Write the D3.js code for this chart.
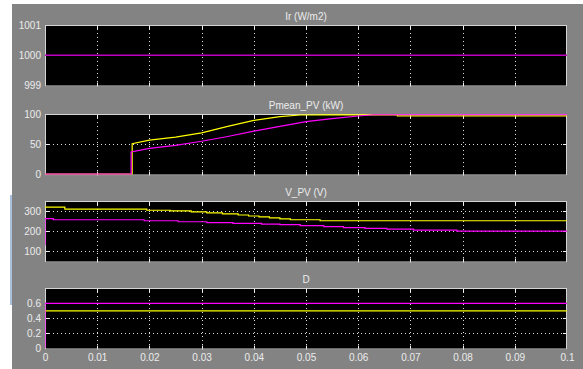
<!DOCTYPE html>
<html>
<head>
<meta charset="utf-8">
<script src="https://cdn.jsdelivr.net/npm/d3@7"></script>
<style>
  body { margin: 0; background: #fff; }
  svg text { font-family: "Liberation Sans", Arial, sans-serif; font-size: 10px; fill: #ececec; }
</style>
</head>
<body>
<svg id="chart" width="583" height="369"></svg>
<script>
// time axis
var xTicks = [0, 0.01, 0.02, 0.03, 0.04, 0.05, 0.06, 0.07, 0.08, 0.09, 0.1];

// Ir (W/m2)
var irTime = [0, 0.1];
var irValue = [1000, 1000];

// Pmean_PV (kW)
var pYellowTime  = [0, 0.0167, 0.0167, 0.02, 0.025, 0.03, 0.035, 0.04, 0.045, 0.0489, 0.055, 0.06, 0.0675, 0.0675, 0.1];
var pYellowValue = [0, 0, 51, 57, 62, 69, 80, 90, 96.5, 99.2, 99.4, 99.4, 99.3, 97.8, 97.8];
var pMagentaTime  = [0, 0.0165, 0.0165, 0.02, 0.025, 0.03, 0.035, 0.04, 0.045, 0.05, 0.055, 0.06, 0.063, 0.1];
var pMagentaValue = [0, 0, 37, 43, 48, 55, 63, 72, 80, 88, 93, 97.5, 99.6, 99.6];

// V_PV (V), piecewise constant
var vYellowTime  = [0, 0.0038, 0.0195, 0.024, 0.028, 0.031, 0.034, 0.037, 0.039, 0.041, 0.043, 0.045, 0.047, 0.0527, 0.1];
var vYellowValue = [322, 312, 306, 303, 298, 293, 288, 282, 277, 272, 267, 262, 258, 253, 253];
var vMagentaTime  = [0, 0, 0.0016, 0.019, 0.0255, 0.031, 0.036, 0.0415, 0.045, 0.0489, 0.0534, 0.0572, 0.0613, 0.0655, 0.0706, 0.0789, 0.1];
var vMagentaValue = [130, 264, 258, 253, 248, 243, 240, 236, 233, 228, 223, 218, 215, 211, 206, 201, 201];

// D
var dYellowTime = [0, 0.1];
var dYellowValue = [0.5, 0.5];
var dMagentaTime = [0, 0, 0.1];
var dMagentaValue = [0, 0.6, 0.6];

var panels = [
  { title: "Ir (W/m2)",     top: 25,  domain: [999, 1001], ticks: [999, 1000, 1001], grid: [], marks: [1000], width: 1.5,
    series: [{ t: irTime, v: irValue, color: "#c000c0" }] },
  { title: "Pmean_PV (kW)", top: 114, domain: [0, 100],    ticks: [0, 50, 100],       grid: [50],
    series: [{ t: pYellowTime, v: pYellowValue, color: "#ffff00" },
             { t: pMagentaTime, v: pMagentaValue, color: "#ff00ff" }] },
  { title: "V_PV (V)",      top: 201, domain: [50, 350],   ticks: [100, 200, 300],    grid: [100, 200, 300], step: true,
    series: [{ t: vYellowTime, v: vYellowValue, color: "#ffff00" },
             { t: vMagentaTime, v: vMagentaValue, color: "#ff00ff" }] },
  { title: "D",             top: 288, domain: [0, 0.8],    ticks: [0, 0.2, 0.4, 0.6], grid: [0.2, 0.4, 0.6],
    series: [{ t: dYellowTime, v: dYellowValue, color: "#ffff00" },
             { t: dMagentaTime, v: dMagentaValue, color: "#ff00ff" }] }
];

var svg = d3.select("#chart");
var left = 45, right = 567, ph = 61.5;

svg.append("rect").attr("x", 12).attr("y", 4).attr("width", 571).attr("height", 365).attr("fill", "#838383");
svg.append("rect").attr("x", 10).attr("y", 195).attr("width", 2).attr("height", 110).attr("fill", "#a9bfdc");

var x = d3.scaleLinear().domain([0, 0.1]).range([left, right]);

panels.forEach(function(p, i){
  // keep the lowest value a pixel above the bottom frame
  var y = d3.scaleLinear().domain(p.domain).range([p.top + ph - 1.5, p.top + 0.5]);
  var g = svg.append("g");
  var marks = p.marks || p.grid;

  g.append("rect")
    .attr("x", left).attr("y", p.top)
    .attr("width", right - left).attr("height", ph)
    .attr("fill", "#000");

  // dotted grid
  var inner = xTicks.slice(1, -1);
  g.selectAll(".vg").data(inner).enter().append("line")
    .attr("x1", function(d){ return Math.round(x(d)) + 0.5; })
    .attr("x2", function(d){ return Math.round(x(d)) + 0.5; })
    .attr("y1", p.top).attr("y2", p.top + ph)
    .attr("stroke", "#e0e0e0").attr("stroke-dasharray", "1,3");
  g.selectAll(".hg").data(p.grid).enter().append("line")
    .attr("x1", left).attr("x2", right)
    .attr("y1", function(d){ return Math.round(y(d)) + 0.5; })
    .attr("y2", function(d){ return Math.round(y(d)) + 0.5; })
    .attr("stroke", "#e0e0e0").attr("stroke-dasharray", "1,3");

  // tick marks on the frame
  g.selectAll(".tt").data(inner).enter().append("path")
    .attr("d", function(d){
      var xx = Math.round(x(d)) + 0.5;
      return "M" + xx + "," + p.top + "v4M" + xx + "," + (p.top + ph) + "v-4";
    })
    .attr("stroke", "#f0f0f0");
  g.selectAll(".ty").data(marks).enter().append("path")
    .attr("d", function(d){
      var yy = Math.round(y(d)) + 0.5;
      return "M" + left + "," + yy + "h4M" + right + "," + yy + "h-4";
    })
    .attr("stroke", "#f0f0f0");

  // frame
  g.append("rect")
    .attr("x", left + 0.5).attr("y", p.top + 0.5)
    .attr("width", right - left - 1).attr("height", ph - 1)
    .attr("fill", "none").attr("stroke", "#d4d4d4");

  // series
  var line = d3.line()
    .x(function(d){ return x(d[0]); })
    .y(function(d){ return y(d[1]); })
    .curve(p.step ? d3.curveStepAfter : d3.curveLinear);
  var clipId = "clip" + i;
  g.append("clipPath").attr("id", clipId).append("rect")
    .attr("x", left).attr("y", p.top).attr("width", right - left).attr("height", ph);
  p.series.forEach(function(s){
    var pts = s.t.map(function(t, k){ return [t, s.v[k]]; });
    g.append("path").datum(pts)
      .attr("d", line)
      .attr("clip-path", "url(#" + clipId + ")")
      .attr("fill", "none")
      .attr("stroke", s.color)
      .attr("stroke-width", p.width || 1.2);
  });

  // y labels
  var yAxis = d3.axisLeft(y).tickValues(p.ticks).tickSize(0).tickPadding(4)
    .tickFormat(function(d){ return String(d); });
  var ya = g.append("g").attr("transform", "translate(" + left + ",0)").call(yAxis);
  ya.select(".domain").remove();
  ya.selectAll("text").attr("fill", "#ececec").style("font-size", "10px");

  g.append("text")
    .attr("x", (left + right) / 2).attr("y", p.top - 5.5)
    .attr("text-anchor", "middle")
    .text(p.title);

  if (i === panels.length - 1) {
    var xAxis = d3.axisBottom(x).tickValues(xTicks).tickSize(0).tickPadding(4)
      .tickFormat(function(d){ return String(d); });
    var xa = g.append("g").attr("transform", "translate(0," + (p.top + ph) + ")").call(xAxis);
    xa.select(".domain").remove();
    xa.selectAll("text").attr("fill", "#ececec").style("font-size", "10px");
  }
});
</script>
</body>
</html>
